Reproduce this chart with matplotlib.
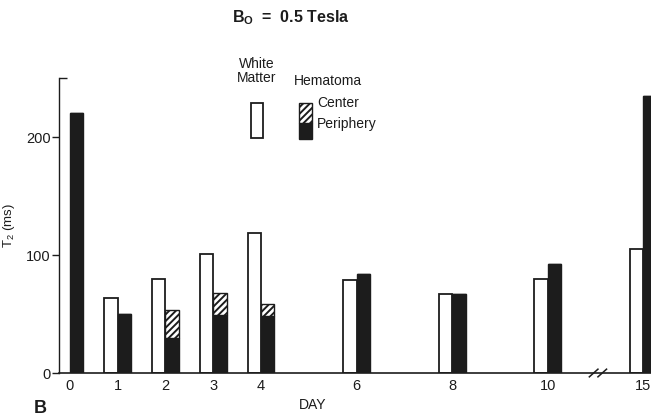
# T2 relaxation bar chart, white matter vs hematoma at 0.5 T

import matplotlib
matplotlib.use('Agg')
import matplotlib.pyplot as plt
import numpy as np
from matplotlib.patches import Rectangle

plt.rcParams['font.family'] = ['Liberation Sans', 'DejaVu Sans']
plt.rcParams['mathtext.fontset'] = 'custom'
plt.rcParams['mathtext.rm'] = 'Liberation Sans'
plt.rcParams['mathtext.bf'] = 'Liberation Sans:bold'
plt.rcParams['hatch.linewidth'] = 1.4

# data (T2 in ms)
days = [0, 1, 2, 3, 4, 6, 8, 10, 15]
day_labels = ['0', '1', '2', '3', '4', '6', '8', '10', '15']
white_matter = [np.nan, 64, 80, 101, 119, 79, 67.5, 80, 105]
periphery = [221, 50, 30, 49, 48.5, 84, 67.5, 93, 235]
center = [221, 50, 54, 68, 58.5, 84, 67.5, 93, 235]   # top of hatched part

INK = '#1c1c1c'
W, H = 651, 417

def fx(px):
    return px / W

def fy(py):
    return 1 - py / H

# axis break after day 10: day 15 is drawn two steps after 10
pos = np.array([d if d <= 10 else d - 3 for d in days], dtype=float)
bw = 0.28

fig = plt.figure(figsize=(6.51, 4.17), dpi=100)
ax = fig.add_axes([fx(59.3), fy(373.3), 1 - fx(59.3), fy(78.3) - fy(373.3)])

ax.bar(pos - bw / 2, white_matter, bw, color='white', edgecolor=INK, linewidth=1.3)
ax.bar(pos + bw / 2, periphery, bw, color=INK, edgecolor=INK, linewidth=1.0)
hatch_h = np.array(center) - np.array(periphery)
ax.bar(pos + bw / 2, hatch_h, bw, bottom=periphery, color='white',
       edgecolor=INK, hatch='/////', linewidth=1.0)

ax.set_xlim(-0.22, 12.16)
ax.set_ylim(0, 250)
ax.set_xticks(pos)
ax.set_xticklabels(day_labels)
ax.set_yticks([0, 100, 200])
ax.set_yticks([250], minor=True)
ax.tick_params(axis='y', which='major', length=5, width=1.0, colors=INK, labelsize=10.5, pad=1)
ax.tick_params(axis='y', which='minor', direction='in', length=6, width=1.0, color=INK)
ax.tick_params(axis='x', length=0, labelsize=10.5, colors=INK, pad=4)
for s in ['top', 'right']:
    ax.spines[s].set_visible(False)
ax.spines['left'].set_color(INK)
ax.spines['bottom'].set_color(INK)
ax.spines['left'].set_linewidth(1.0)
ax.spines['bottom'].set_linewidth(1.2)

# break marks on the x axis
xb = 11.05
for off in (-0.09, 0.09):
    ax.plot([xb + off - 0.09, xb + off + 0.09], [-3, 3.5], color=INK, lw=1.1, clip_on=False)

ax.set_xlabel('DAY', fontsize=10, color=INK)
ax.xaxis.set_label_coords((313 - 59.3) / 591.7, (373.3 - 398) / 296)
ax.set_ylabel('T$_2$ (ms)', fontsize=9.5, color=INK)
ax.yaxis.set_label_coords((17 - 59.3) / 591.7, 0.5)

# legend drawn by hand
ax.add_patch(Rectangle((0.324, 0.796), 0.0208, 0.1216, transform=ax.transAxes,
                       facecolor='white', edgecolor=INK, lw=1.3, clip_on=False))
ax.add_patch(Rectangle((0.405, 0.794), 0.0215, 0.0534, transform=ax.transAxes,
                       facecolor=INK, edgecolor=INK, lw=1.0, clip_on=False))
ax.add_patch(Rectangle((0.405, 0.847), 0.0215, 0.0703, transform=ax.transAxes,
                       facecolor='white', edgecolor=INK, hatch='/////', lw=1.0, clip_on=False))

fig.text(fx(257), fy(71), 'White\nMatter', ha='center', va='center', fontsize=10,
         color=INK, linespacing=1.05)
fig.text(fx(294), fy(81), 'Hematoma', ha='left', va='center', fontsize=10, color=INK)
fig.text(fx(317), fy(103), 'Center', ha='left', va='center', fontsize=10, color=INK)
fig.text(fx(317), fy(124), 'Periphery', ha='left', va='center', fontsize=10, color=INK)

fig.text(fx(291), fy(18), r'$\mathbf{B_O}$  =  0.5 Tesla', ha='center', va='center',
         fontsize=11.5, fontweight='bold', color=INK)
fig.text(fx(34), fy(413), 'B', ha='left', va='baseline', fontsize=13, fontweight='bold', color=INK)

fig.savefig('out.png', dpi=100, facecolor='white')
